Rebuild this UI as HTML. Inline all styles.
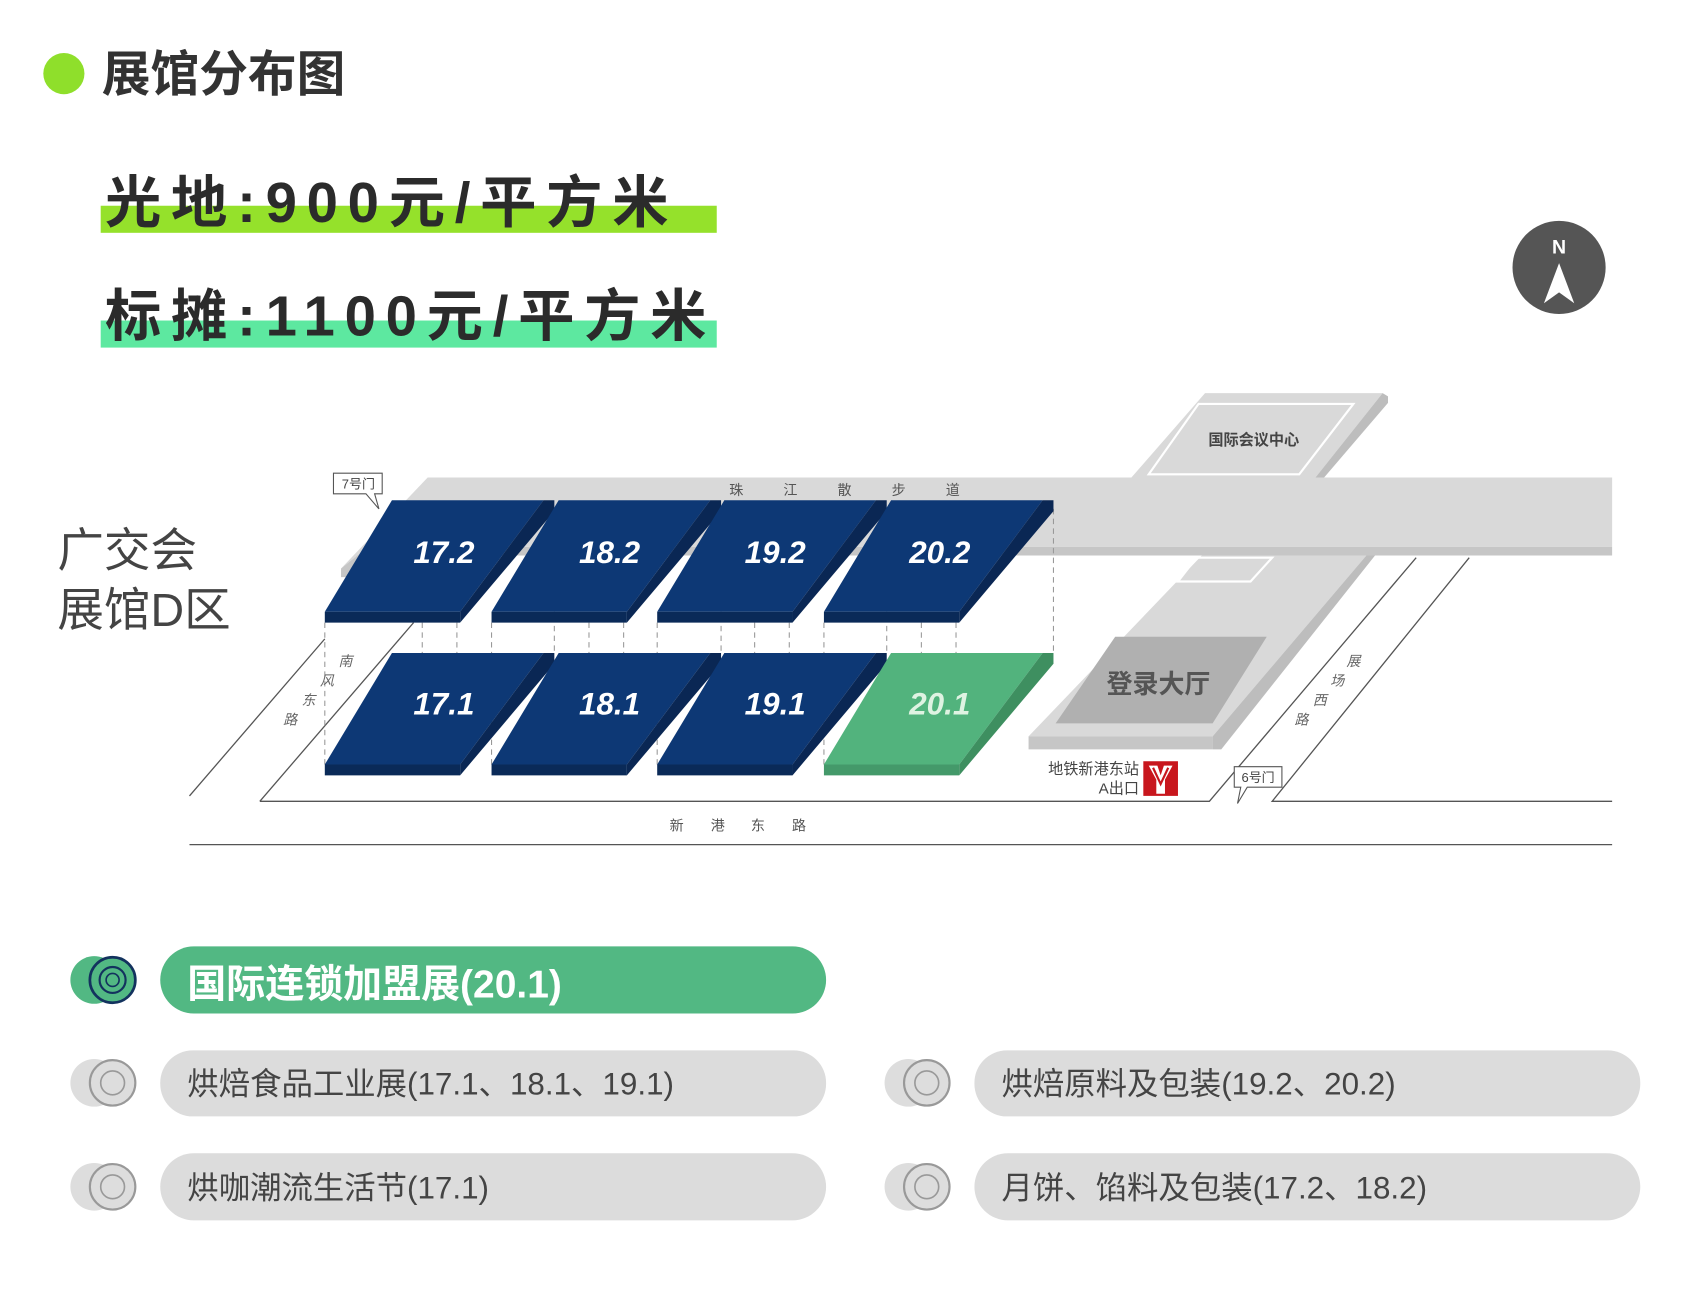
<!DOCTYPE html>
<html><head><meta charset="utf-8"><style>
html,body{margin:0;padding:0;background:#fff;}
svg{display:block;}
text{font-family:"Liberation Sans","Noto Sans CJK SC",sans-serif;}
</style></head><body>
<svg width="1689" height="1294" viewBox="0 0 1560 1195" preserveAspectRatio="none" xmlns="http://www.w3.org/2000/svg">
<rect width="1560" height="1195" fill="#fff"/>
<!-- header -->
<circle cx="59" cy="68" r="19" fill="#8fdf2b"/>
<text x="94" y="84" font-size="45" font-weight="bold" fill="#333">展馆分布图</text>
<rect x="93" y="190" width="569" height="25" fill="#95e12b"/>
<text x="97" y="205" font-size="52" font-weight="bold" fill="#2b2b2b" letter-spacing="9">光地:900元/平方米</text>
<rect x="93" y="296" width="569" height="25" fill="#5de8a0"/>
<text x="97" y="310" font-size="52" font-weight="bold" fill="#2b2b2b" letter-spacing="9">标摊:1100元/平方米</text>
<!-- compass -->
<circle cx="1440" cy="247" r="43" fill="#555"/>
<text x="1440" y="234" font-size="18" font-weight="bold" fill="#fff" text-anchor="middle">N</text>
<polygon points="1440,243 1426,280 1440,270 1454,280" fill="#fff"/>
<!-- conference center -->
<polygon points="1113,363 1277,363 1215,441 1045,441" fill="#d9d9d9"/>
<polygon points="1277,363 1282,366 1282,372 1223,441 1215,441" fill="#bdbdbd"/>
<polygon points="1107,373 1250,373 1200,438 1061,438" fill="none" stroke="#fff" stroke-width="2"/>
<text x="1158" y="411" font-size="14" font-weight="bold" fill="#444" text-anchor="middle">国际会议中心</text>
<!-- walkway -->
<polygon points="395,441 1489,441 1489,505 340,505 315,525" fill="#d9d9d9"/>
<polygon points="1489,505 1489,513 345,513 320,533 315,533 315,525 340,505" fill="#c6c6c6"/>
<!-- strip to lobby -->
<polygon points="1110,513 1262,513 1120,680 950,680" fill="#d9d9d9"/>
<polygon points="1262,513 1270,513 1128,692 1120,692 1120,680" fill="#bdbdbd"/>
<polygon points="950,680 1120,680 1120,692 950,692" fill="#c6c6c6"/>
<polygon points="1105,515 1175,515 1155,537 1088,537" fill="none" stroke="#fff" stroke-width="2"/>
<polygon points="1030,588 1170,588 1120,668 975,668" fill="#b0b0b0"/>
<text x="1070" y="640" font-size="24" font-weight="bold" fill="#555" text-anchor="middle">登录大厅</text>
<!-- roads -->
<g stroke="#555" stroke-width="1.2" fill="none">
<line x1="175" y1="735" x2="300" y2="590"/>
<line x1="240" y1="740" x2="382" y2="575"/>
<polyline points="240,740 1117,740 1308,515"/>
<polyline points="1357,515 1175,740 1489,740"/>
<line x1="175" y1="780" x2="1489" y2="780"/>
</g>
<!-- dashed lines -->
<g stroke="#999" stroke-width="1" stroke-dasharray="5,4">
<line x1="300" y1="575" x2="300" y2="710"/><line x1="390" y1="575" x2="390" y2="610"/><line x1="422" y1="575" x2="422" y2="710"/><line x1="512" y1="470" x2="512" y2="605"/>
<line x1="454" y1="575" x2="454" y2="710"/><line x1="544" y1="575" x2="544" y2="610"/><line x1="576" y1="575" x2="576" y2="710"/><line x1="666" y1="470" x2="666" y2="605"/>
<line x1="607" y1="575" x2="607" y2="710"/><line x1="697" y1="575" x2="697" y2="610"/><line x1="729" y1="575" x2="729" y2="710"/><line x1="819" y1="470" x2="819" y2="605"/>
<line x1="761" y1="575" x2="761" y2="710"/><line x1="851" y1="575" x2="851" y2="610"/><line x1="883" y1="575" x2="883" y2="710"/><line x1="973" y1="470" x2="973" y2="605"/>
</g>
<!-- blocks -->
<defs>
<g id="blk">
<polygon points="62,0 202,0 125,103 0,103" fill="#0d3875"/>
<polygon points="202,0 212,0 212,10 125,113 125,103" fill="#0a2754"/>
<polygon points="0,103 125,103 125,113 0,113" fill="#0a2a58"/>
</g>
<g id="gblk">
<polygon points="62,0 202,0 125,103 0,103" fill="#52b37d"/>
<polygon points="202,0 212,0 212,10 125,113 125,103" fill="#3e8f60"/>
<polygon points="0,103 125,103 125,113 0,113" fill="#44996a"/>
</g>
</defs>
<use href="#blk" x="300" y="462"/><use href="#blk" x="454" y="462"/><use href="#blk" x="607" y="462"/><use href="#blk" x="761" y="462"/>
<use href="#blk" x="300" y="603"/><use href="#blk" x="454" y="603"/><use href="#blk" x="607" y="603"/><use href="#gblk" x="761" y="603"/>
<g font-size="29" font-weight="bold" font-style="italic" fill="#fff" text-anchor="middle">
<text x="410" y="520">17.2</text><text x="563" y="520">18.2</text><text x="716" y="520">19.2</text><text x="868" y="520">20.2</text>
<text x="410" y="660">17.1</text><text x="563" y="660">18.1</text><text x="716" y="660">19.1</text><text x="868" y="660" fill="#dff3e2">20.1</text>
</g>
<!-- road labels -->
<g font-size="13" fill="#666" text-anchor="middle" font-style="italic">
<text x="319" y="615">南</text><text x="302" y="633">风</text><text x="285" y="651">东</text><text x="268" y="669">路</text>
<text x="1250" y="615">展</text><text x="1235" y="633">场</text><text x="1219" y="651">西</text><text x="1202" y="669">路</text>
</g>
<g font-size="13" fill="#555" text-anchor="middle">
<text x="680" y="457">珠</text><text x="730" y="457">江</text><text x="780" y="457">散</text><text x="830" y="457">步</text><text x="880" y="457">道</text>
<text x="625" y="767">新</text><text x="663" y="767">港</text><text x="700" y="767">东</text><text x="738" y="767">路</text>
</g>
<!-- gates -->
<polygon points="308,437 353,437 353,456 346,456 350,470 338,456 308,456" fill="#fff" stroke="#555" stroke-width="1"/>
<text x="331" y="451" font-size="12" fill="#444" text-anchor="middle">7号门</text>
<polygon points="1140,708 1184,708 1184,727 1152,727 1143,742 1146,727 1140,727" fill="#fff" stroke="#555" stroke-width="1"/>
<text x="1162" y="722" font-size="12" fill="#444" text-anchor="middle">6号门</text>
<!-- subway -->
<text x="1052" y="715" font-size="14" fill="#444" text-anchor="end">地铁新港东站</text>
<text x="1052" y="733" font-size="14" fill="#444" text-anchor="end">A出口</text>
<rect x="1056" y="703" width="32" height="32" fill="#c8161d"/>
<path d="M1061,707 L1069,707 L1072,716 L1075,707 L1083,707 L1076,720 L1076,733 L1068,733 L1068,720 Z" fill="#fff"/>
<path d="M1065,709 L1072,724 L1079,709" fill="none" stroke="#c8161d" stroke-width="2"/>
<!-- zone title -->
<text x="53" y="523" font-size="43" fill="#444">广交会</text>
<text x="53" y="578" font-size="43" fill="#444">展馆D区</text>
<!-- legend -->
<circle cx="87" cy="905" r="22" fill="#52b883"/>
<circle cx="104" cy="905" r="21" fill="#52b883" stroke="#13325e" stroke-width="2.5"/>
<circle cx="104" cy="905" r="12" fill="none" stroke="#13325e" stroke-width="2"/>
<circle cx="104" cy="905" r="6" fill="none" stroke="#13325e" stroke-width="1.5"/>
<rect x="148" y="874" width="615" height="62" rx="31" fill="#52b883"/>
<text x="173" y="921" font-size="36" font-weight="bold" fill="#fff">国际连锁加盟展(20.1)</text>
<g>
<circle cx="87" cy="1000" r="22" fill="#ddd"/><circle cx="104" cy="1000" r="21" fill="#ddd" stroke="#999" stroke-width="2"/><circle cx="104" cy="1000" r="11" fill="none" stroke="#999" stroke-width="1.5"/>
<circle cx="87" cy="1096" r="22" fill="#ddd"/><circle cx="104" cy="1096" r="21" fill="#ddd" stroke="#999" stroke-width="2"/><circle cx="104" cy="1096" r="11" fill="none" stroke="#999" stroke-width="1.5"/>
<circle cx="839" cy="1000" r="22" fill="#ddd"/><circle cx="856" cy="1000" r="21" fill="#ddd" stroke="#999" stroke-width="2"/><circle cx="856" cy="1000" r="11" fill="none" stroke="#999" stroke-width="1.5"/>
<circle cx="839" cy="1096" r="22" fill="#ddd"/><circle cx="856" cy="1096" r="21" fill="#ddd" stroke="#999" stroke-width="2"/><circle cx="856" cy="1096" r="11" fill="none" stroke="#999" stroke-width="1.5"/>
</g>
<rect x="148" y="970" width="615" height="61" rx="30" fill="#dcdcdc"/>
<rect x="900" y="970" width="615" height="61" rx="30" fill="#dcdcdc"/>
<rect x="148" y="1065" width="615" height="62" rx="31" fill="#dcdcdc"/>
<rect x="900" y="1065" width="615" height="62" rx="31" fill="#dcdcdc"/>
<g font-size="29" fill="#444">
<text x="173" y="1011">烘焙食品工业展(17.1、18.1、19.1)</text>
<text x="925" y="1011">烘焙原料及包装(19.2、20.2)</text>
<text x="173" y="1107">烘咖潮流生活节(17.1)</text>
<text x="925" y="1107">月饼、馅料及包装(17.2、18.2)</text>
</g>
</svg>
</body></html>
